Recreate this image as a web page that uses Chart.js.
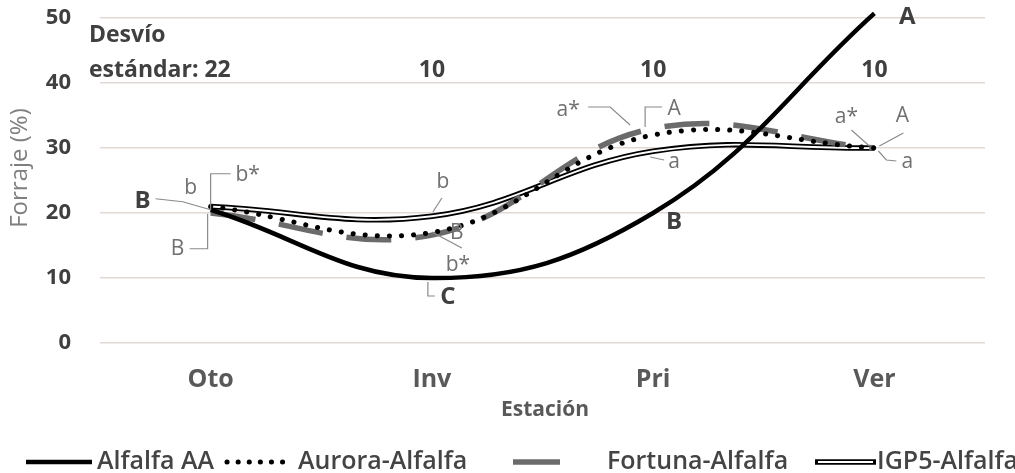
<!DOCTYPE html>
<html lang="es">
<head>
    <meta charset="UTF-8">
    <title>Forraje por estación</title>
    <script src="https://cdn.jsdelivr.net/npm/chart.js"></script>
    <style>
        body { margin: 0; background: #fff; }
        #wrap { width: 1015px; height: 473px; }
    </style>
</head>
<body>
    <div id="wrap"><canvas id="forrajeChart" width="1015" height="473"></canvas></div>

    <script>
        // Datos
        const estaciones = ['Oto', 'Inv', 'Pri', 'Ver'];
        const alfalfaAA = [20.5, 10, 20, 50.7];
        const auroraAlfalfa = [21, 17, 32, 30];
        const fortunaAlfalfa = [20, 16.6, 33, 30];
        const igp5Alfalfa = [21, 19.5, 29.5, 30];
        const yTicks = [0, 10, 20, 30, 40, 50];
        const desvioEstandar = ['22', '10', '10', '10'];

        // Letras de significancia: texto, estación, valor ancla, desplazamiento y guía (px)
        const letras = [
            { t: 'B', c: 0, v: 20.5, dx: -68, dy: -9, bold: true, lead: [[-55, -11], [-28, -8], [0, 0]] },
            { t: 'b', c: 0, v: 20.5, dx: -20, dy: -22 },
            { t: 'b*', c: 0, v: 20.5, dx: 37, dy: -35, lead: [[20, -36], [0, -36], [0, 0]] },
            { t: 'B', c: 0, v: 20.5, dx: -33, dy: 39, lead: [[-21, 39], [-3, 39], [-3, 4]] },
            { t: 'b', c: 1, v: 10, dx: 11, dy: -96, lead: [[10, -80], [1, -66]] },
            { t: 'B', c: 1, v: 10, dx: 25, dy: -45, lead: [[0, -46], [30, -30]] },
            { t: 'b*', c: 1, v: 10, dx: 26, dy: -13 },
            { t: 'C', c: 1, v: 10, dx: 16, dy: 19, bold: true, lead: [[3, 18], [-4, 18], [-4, 4]] },
            { t: 'a*', c: 2, v: 20, dx: -85, dy: -103, lead: [[-65, -106], [-43, -106], [-23, -88]] },
            { t: 'A', c: 2, v: 20, dx: 21, dy: -104, lead: [[9, -106], [-8, -106], [-8, -86]] },
            { t: 'a', c: 2, v: 20, dx: 21, dy: -51, lead: [[11, -53], [-3, -56]] },
            { t: 'B', c: 2, v: 20, dx: 21, dy: 9, bold: true },
            { t: 'A', c: 3, v: 30, dx: 33, dy: -131, bold: true },
            { t: 'a*', c: 3, v: 30, dx: -28, dy: -31, lead: [[-23, -18], [-5, -2]] },
            { t: 'A', c: 3, v: 30, dx: 28, dy: -32, lead: [[29, -15], [5, -2]] },
            { t: 'a', c: 3, v: 30, dx: 33, dy: 14, lead: [[4, 3], [12, 12], [22, 13]] }
        ];

        const FONT = "'Open Sans', 'DejaVu Sans', sans-serif";
        const DARK = '#404040';
        const GRAY = '#707070';

        // Anotaciones: desvío estándar, letras, títulos de ejes
        const anotaciones = {
            id: 'anotaciones',
            afterDraw(chart) {
                const ctx = chart.ctx;
                const x = chart.scales.x, y = chart.scales.y;
                ctx.save();
                ctx.textBaseline = 'middle';

                ctx.fillStyle = DARK;
                ctx.font = 'bold 23px ' + FONT;
                ctx.textAlign = 'left';
                ctx.fillText('Desvío', 89, 35);
                ctx.fillText('estándar: ' + desvioEstandar[0], 89, 70);
                ctx.textAlign = 'center';
                for (let i = 1; i < estaciones.length; i++) {
                    ctx.fillText(desvioEstandar[i], x.getPixelForValue(i), 70);
                }

                letras.forEach(l => {
                    const px = x.getPixelForValue(l.c), py = y.getPixelForValue(l.v);
                    if (l.lead) {
                        ctx.strokeStyle = '#8a8a8a';
                        ctx.lineWidth = 1.2;
                        ctx.beginPath();
                        l.lead.forEach((p, k) => k ? ctx.lineTo(px + p[0], py + p[1]) : ctx.moveTo(px + p[0], py + p[1]));
                        ctx.stroke();
                    }
                    ctx.fillStyle = l.bold ? DARK : GRAY;
                    ctx.font = (l.bold ? 'bold 24px ' : '21px ') + FONT;
                    ctx.fillText(l.t, px + l.dx, py + l.dy);
                });

                // títulos de ejes
                ctx.fillStyle = '#7f7f7f';
                ctx.font = '24px ' + FONT;
                ctx.save();
                ctx.translate(20, 168);
                ctx.rotate(-Math.PI / 2);
                ctx.fillText('Forraje (%)', 0, 0);
                ctx.restore();
                ctx.fillStyle = '#595959';
                ctx.font = 'bold 21px ' + FONT;
                ctx.fillText('Estación', 545, 410);
                ctx.restore();
            }
        };

        // Leyenda dibujada a mano (como en el original, recortada a la derecha)
        const leyenda = {
            id: 'leyenda',
            afterDraw(chart) {
                const ctx = chart.ctx;
                const cy = 462;
                ctx.save();
                ctx.font = '600 25px ' + FONT;
                ctx.fillStyle = '#444';
                ctx.textBaseline = 'middle';
                chart.data.datasets.filter(d => d.leyenda).forEach(d => {
                    const L = d.leyenda;
                    ctx.save();
                    ctx.beginPath();
                    ctx.moveTo(L.x0, cy);
                    ctx.lineTo(L.x1, cy);
                    ctx.strokeStyle = d.borderColor;
                    ctx.lineWidth = d.borderWidth;
                    ctx.lineCap = d.borderCapStyle || 'butt';
                    ctx.setLineDash(L.dash || []);
                    ctx.stroke();
                    if (L.doble) {
                        ctx.beginPath();
                        ctx.moveTo(L.x0 + 3, cy);
                        ctx.lineTo(L.x1 - 3, cy);
                        ctx.strokeStyle = '#fff';
                        ctx.lineWidth = 2;
                        ctx.stroke();
                    }
                    ctx.restore();
                    ctx.fillText(d.label, L.tx, cy);
                });
                ctx.restore();
            }
        };

        const ctx = document.getElementById('forrajeChart').getContext('2d');
        new Chart(ctx, {
            type: 'line',
            data: {
                labels: estaciones,
                datasets: [
                    {
                        label: 'Alfalfa AA', data: alfalfaAA,
                        borderColor: '#000', borderWidth: 4.5, order: 1,
                        leyenda: { x0: 26, x1: 92, tx: 97 }
                    },
                    {
                        label: 'Aurora-Alfalfa', data: auroraAlfalfa,
                        borderColor: '#000', borderWidth: 5, borderDash: [0.1, 12], borderCapStyle: 'round', order: 2,
                        leyenda: { x0: 227, x1: 292, tx: 298, dash: [0.1, 11] }
                    },
                    {
                        label: 'Fortuna-Alfalfa', data: fortunaAlfalfa,
                        borderColor: '#6b6b6b', borderWidth: 5.5, borderDash: [45, 24], order: 3,
                        leyenda: { x0: 513, x1: 560, tx: 607 }
                    },
                    {
                        label: 'IGP5-Alfalfa', data: igp5Alfalfa,
                        borderColor: '#000', borderWidth: 5.5, order: 5,
                        leyenda: { x0: 815, x1: 876, tx: 877, doble: true }
                    },
                    {
                        label: 'IGP5-centro', data: igp5Alfalfa,
                        borderColor: '#fff', borderWidth: 1.8, order: 4
                    }
                ]
            },
            options: {
                responsive: false,
                animation: false,
                devicePixelRatio: 1,
                layout: { padding: { top: 18, right: 30, left: 0, bottom: 0 } },
                elements: {
                    line: { tension: 0.4, fill: false },
                    point: { radius: 0, hoverRadius: 0 }
                },
                clip: false,
                plugins: {
                    legend: { display: false },
                    tooltip: { enabled: false }
                },
                scales: {
                    x: {
                        offset: true,
                        grid: { display: false, drawTicks: false },
                        border: { display: false },
                        ticks: { color: '#595959', font: { family: FONT, size: 25, weight: 'bold' }, padding: 22 },
                        afterFit: s => { s.height = 130; s.paddingLeft = 0; s.paddingRight = 0; }
                    },
                    y: {
                        min: 0, max: 50,
                        afterBuildTicks: s => { s.ticks = yTicks.map(v => ({ value: v })); },
                        grid: { color: '#e2d9d5', lineWidth: 1.5, drawTicks: false },
                        border: { display: false },
                        ticks: { color: '#404040', font: { family: FONT, size: 22, weight: 'bold' }, padding: 29 },
                        afterFit: s => { s.width = 100; s.paddingTop = 0; s.paddingBottom = 0; }
                    }
                }
            },
            plugins: [anotaciones, leyenda]
        });
    </script>
</body>
</html>
